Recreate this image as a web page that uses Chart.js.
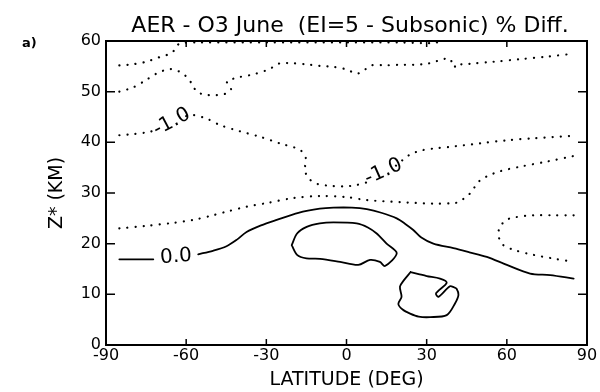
<!DOCTYPE html>
<html>
<head>
<meta charset="utf-8">
<script src="https://cdn.jsdelivr.net/npm/chart.js@4.4.1/dist/chart.umd.min.js"></script>
<style>
  html, body { margin: 0; padding: 0; background: #fff; }
</style>
</head>
<body>
<canvas id="chart" width="600" height="392"></canvas>
<script>
const titleText = 'AER - O3 June  (EI=5 - Subsonic) % Diff.';
const panelTag = 'a)';
const xTitle = 'LATITUDE (DEG)';
const yTitle = 'Z* (KM)';
const latTicks = [-90, -60, -30, 0, 30, 60, 90];
const altTicks = [0, 10, 20, 30, 40, 50, 60];

// contours as [latitude, altitude km]
// dotted = -1.0 %, solid = 0.0 %
const dotTop = [[-85, 55.2], [-80, 55.4], [-75, 55.9], [-70, 56.8], [-66, 57.5], [-64, 58.4], [-62.5, 59.5],
  [-55, 59.7], [-30, 59.7], [0, 59.7], [20, 59.7], [33, 59.6], [35, 60]];
const dotUpper = [[-85, 50.0], [-80, 50.8], [-75, 52.3], [-71, 53.6], [-67, 54.4], [-64.8, 54.4], [-62, 53.8],
  [-59.8, 52.9], [-57.5, 51.3], [-56.1, 50.0], [-53, 49.4], [-49, 49.3], [-46, 49.5], [-44.2, 49.8],
  [-43.2, 50.6], [-44.6, 51.5], [-44.6, 52.2], [-42, 52.6], [-39.9, 52.9], [-35, 53.4], [-30, 54.2],
  [-27, 55], [-24.9, 55.6], [-20, 55.6], [-15, 55.4], [-10, 55.1], [-5, 54.9], [0, 54.4], [2.5, 53.8],
  [4.4, 53.6], [7, 54.4], [9.4, 55.2], [15, 55.2], [20, 55.3], [25, 55.3], [30, 55.5], [33, 55.9],
  [36, 56.4], [38.7, 56.5], [40.2, 54.8], [41.5, 55.6], [43, 55.4], [46.2, 55.5], [55, 55.9], [65, 56.4],
  [75, 56.9], [85, 57.5]];
const minusOneA = [[-85, 41.4], [-80, 41.6], [-73.5, 42.1], [-70.5, 42.6]];
const minusOneB = [[-60, 45.2], [-57.3, 45.4], [-52, 44.6], [-47.3, 43.4], [-40, 42.2], [-32.4, 41.1],
  [-25, 39.8], [-17.4, 38.5], [-15.2, 36.8], [-15.6, 34.5], [-14, 32.8], [-11, 31.8], [-6, 31.4],
  [-1, 31.3], [3, 31.5], [7.6, 32.1], [9, 32.4]];
const minusOneC = [[18.5, 35.4], [21, 36.5], [23.8, 37.6], [28, 38.4], [33, 38.8], [38.7, 39.1],
  [50, 39.8], [60, 40.4], [70, 40.8], [85, 41.3]];
const dotLower = [[-85, 23.0], [-75, 23.5], [-65, 24.1], [-57.3, 24.7], [-50, 25.6], [-45, 26.3],
  [-37.4, 27.3], [-30, 28.0], [-20, 29.0], [-10, 29.4], [0, 29.2], [7.6, 28.6], [20, 28.2], [32.5, 27.9],
  [40, 28.0], [42.5, 28.3], [44.5, 29.2], [46.2, 29.9], [48, 31.2], [50, 32.5], [53, 33.4], [57.5, 34.3],
  [65, 35.2], [75, 36.2], [85, 37.3]];
const dotPolar = [[85, 25.6], [77, 25.6], [69.9, 25.6], [63, 25.2], [59.9, 24.7], [57.5, 23.4], [56.8, 22.0],
  [57.3, 20.8], [58.7, 19.7], [63, 18.7], [69.9, 17.8], [77, 17.1], [85, 16.4]];
const zeroA = [[-85, 16.9], [-78, 16.9], [-72.3, 16.9]];
const zeroB = [[-55.5, 17.9], [-50, 18.6], [-44.9, 19.5], [-41, 20.8], [-37.4, 22.3], [-32, 23.6],
  [-26.1, 24.7], [-18, 26.1], [-10, 26.9], [-4.9, 27.1], [2, 27.1], [7.6, 26.8], [13, 26.1], [18.8, 25.0],
  [22, 23.9], [25, 22.7], [28, 21.2], [32.5, 20.0], [40, 19.1], [46, 18.3], [52.5, 17.4], [60, 15.8],
  [68.7, 14.1], [76.2, 13.8], [85, 13.1]];
const zeroLoopUpper = [[-20.5, 19.7], [-18.5, 22.0], [-14.9, 23.3], [-10, 24.0], [-4.9, 24.2], [3.8, 24.0],
  [8, 23.2], [11.3, 22.0], [15, 20.0], [18.8, 18.1], [14.4, 15.6], [12.5, 16.4], [8.8, 16.8], [4.4, 15.8],
  [-2.4, 16.4], [-9.9, 17.0], [-15, 17.1], [-18.5, 17.8], [-20.5, 19.7]];
const zeroLoopLower = [[24, 14.4], [21.5, 12.8], [20.0, 11.5], [20.6, 9.5], [19.4, 8.1], [21, 7.0],
  [23.8, 6.2], [27, 5.6], [31.3, 5.5], [37.5, 5.9], [40.6, 8.2], [41.9, 9.9], [41.2, 11.1], [40.2, 11.4],
  [38.7, 11.6], [34.4, 9.5], [33.5, 10.2], [37.5, 12.3], [35, 13.1], [30, 13.6], [27, 14.0], [24, 14.4]];

const labelText = ['-1.0', '-1.0', '0.0'];
const labelLat = [-65.4, 13.8, -63.8];
const labelAlt = [44.0, 34.2, 17.4];
const labelAngle = [-28, -24, -4];

const font = "'DejaVu Sans', sans-serif";

function contour(points, dotted) {
    return {
        data: points.map(p => ({ x: p[0], y: p[1] })),
        showLine: true,
        pointRadius: 0,
        borderColor: '#000',
        borderWidth: dotted ? 2.2 : 1.8,
        borderDash: dotted ? [0.1, 8] : [],
        borderCapStyle: 'round',
        borderJoinStyle: 'round',
        tension: 0.3
    };
}

const framePlugin = {
    id: 'frame',
    afterDraw(chart) {
        const { ctx, chartArea: a, scales: { x, y } } = chart;
        ctx.save();
        ctx.strokeStyle = '#000';
        ctx.fillStyle = '#000';
        ctx.lineWidth = 2;
        ctx.strokeRect(a.left, a.top, a.right - a.left, a.bottom - a.top);
        ctx.lineWidth = 1.5;
        ctx.beginPath();
        latTicks.slice(1, -1).forEach(v => {
            const px = x.getPixelForValue(v);
            ctx.moveTo(px, a.bottom); ctx.lineTo(px, a.bottom - 6);
            ctx.moveTo(px, a.top); ctx.lineTo(px, a.top + 6);
        });
        altTicks.slice(1, -1).forEach(v => {
            const py = y.getPixelForValue(v);
            ctx.moveTo(a.left, py); ctx.lineTo(a.left + 9, py);
            ctx.moveTo(a.right, py); ctx.lineTo(a.right - 9, py);
        });
        ctx.stroke();

        // contour labels
        ctx.font = '20px ' + font;
        ctx.textAlign = 'center';
        ctx.textBaseline = 'middle';
        labelText.forEach((t, i) => {
            ctx.save();
            ctx.translate(x.getPixelForValue(labelLat[i]), y.getPixelForValue(labelAlt[i]));
            ctx.rotate(labelAngle[i] * Math.PI / 180);
            ctx.fillText(t, 0, 0);
            ctx.restore();
        });

        ctx.textBaseline = 'alphabetic';
        ctx.font = '22px ' + font;
        ctx.fillText(titleText, 350, 32);
        ctx.textAlign = 'left';
        ctx.font = 'bold 13px ' + font;
        ctx.fillText(panelTag, 22, 47);
        ctx.restore();
    }
};

new Chart(document.getElementById('chart'), {
    type: 'scatter',
    data: {
        datasets: [
            contour(dotTop, true),
            contour(dotUpper, true),
            contour(minusOneA, true),
            contour(minusOneB, true),
            contour(minusOneC, true),
            contour(dotLower, true),
            contour(dotPolar, true),
            contour(zeroA, false),
            contour(zeroB, false),
            contour(zeroLoopUpper, false),
            contour(zeroLoopLower, false)
        ]
    },
    options: {
        responsive: false,
        animation: false,
        layout: { padding: { top: 41, right: 13, left: 0, bottom: 0 } },
        plugins: { legend: { display: false }, tooltip: { enabled: false }, title: { display: false } },
        scales: {
            x: {
                type: 'linear', min: -90, max: 90,
                afterFit: s => { s.height = 47; },
                afterBuildTicks: s => { s.ticks = latTicks.map(v => ({ value: v })); },
                grid: { display: false, drawTicks: false },
                border: { display: false },
                ticks: { color: '#000', padding: 1, font: { family: font, size: 16 } },
                title: { display: true, text: xTitle, color: '#000', padding: { top: 0, bottom: 1 },
                    font: { family: font, size: 19, lineHeight: 1.2 } }
            },
            y: {
                type: 'linear', min: 0, max: 60,
                afterFit: s => { s.width = 106; },
                afterBuildTicks: s => { s.ticks = altTicks.map(v => ({ value: v })); },
                grid: { display: false, drawTicks: false },
                border: { display: false },
                ticks: { color: '#000', padding: 5, font: { family: font, size: 16 } },
                title: { display: true, text: yTitle, color: '#000', padding: { top: 46, bottom: 0 },
                    font: { family: font, size: 19, lineHeight: 1.2 } }
            }
        }
    },
    plugins: [framePlugin]
});
</script>
</body>
</html>
